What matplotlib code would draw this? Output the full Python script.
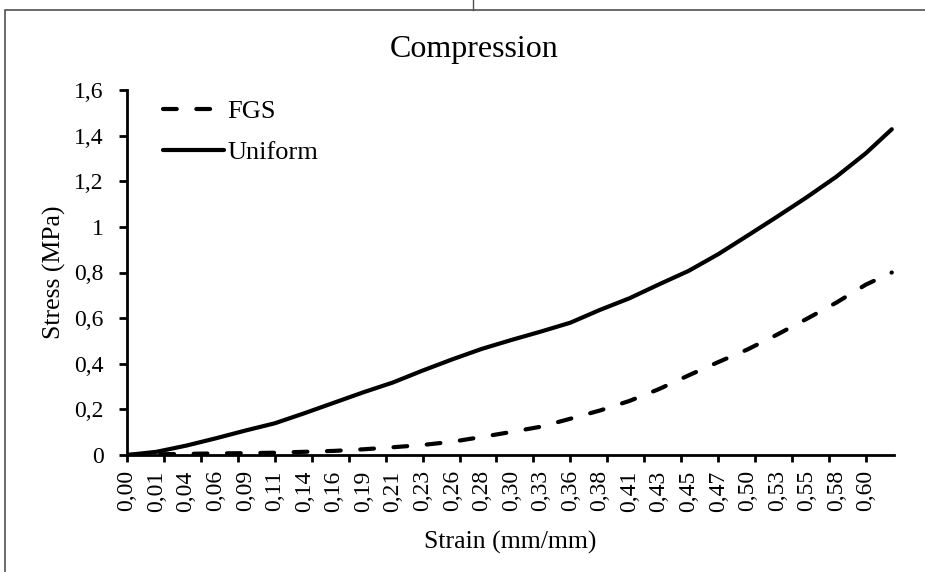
import matplotlib
matplotlib.use("Agg")
import matplotlib.pyplot as plt
from matplotlib.lines import Line2D
from matplotlib.patches import Rectangle
import numpy as np

# category axis (Excel style): labels every 4 categories, tick marks every 5
strain_labels = ["0,00", "0,01", "0,04", "0,06", "0,09", "0,11", "0,14", "0,16",
                 "0,19", "0,21", "0,23", "0,26", "0,28", "0,30", "0,33", "0,36",
                 "0,38", "0,41", "0,43", "0,45", "0,47", "0,50", "0,53", "0,55",
                 "0,58", "0,60"]
category = [4 * i for i in range(len(strain_labels))] + [103.5]

fgs = [0, 0.003, 0.005, 0.007, 0.008, 0.010, 0.014, 0.018, 0.025, 0.034,
       0.044, 0.058, 0.079, 0.101, 0.124, 0.159, 0.195, 0.237, 0.289, 0.349,
       0.407, 0.463, 0.528, 0.597, 0.668, 0.747, 0.800]
uniform = [0, 0.014, 0.041, 0.073, 0.107, 0.139, 0.183, 0.229, 0.275, 0.318,
           0.370, 0.419, 0.465, 0.504, 0.541, 0.580, 0.636, 0.687, 0.748, 0.807,
           0.880, 0.962, 1.045, 1.130, 1.220, 1.323, 1.428]

y_ticks = [0, 0.2, 0.4, 0.6, 0.8, 1.0, 1.2, 1.4, 1.6]
y_labels = ["0", "0,2", "0,4", "0,6", "0,8", "1", "1,2", "1,4", "1,6"]

plt.rcParams["font.family"] = ["Liberation Serif", "DejaVu Serif"]

W, H = 925, 572
fig = plt.figure(figsize=(W / 100, H / 100), dpi=100)
ax = fig.add_axes([127 / W, 1 - 455 / H, (894 - 127) / W, (455 - 90) / H])

# outer chart-area border
fig.patches.append(Rectangle((5 / W, -0.05), 1.1, 1 - 10 / H + 0.05,
                             transform=fig.transFigure, fill=False,
                             edgecolor="#505050", lw=1.2))
fig.lines.append(Line2D([473 / W, 473 / W], [1 - 10 / H, 1], transform=fig.transFigure,
                        color="#505050", lw=1))

ax.plot(category, fgs, color="black", lw=3, dashes=(3.3, 4.7),
        dash_capstyle="round", solid_capstyle="round", label="FGS")
ax.plot(category, uniform, color="black", lw=3, solid_capstyle="round",
        label="Uniform")

ax.set_xlim(0, 103.8)
ax.set_ylim(0, 1.6)
for s in ["top", "right"]:
    ax.spines[s].set_visible(False)
for s in ["left", "bottom"]:
    ax.spines[s].set_linewidth(2)

ax.set_yticks(y_ticks)
ax.set_yticklabels(y_labels, fontsize=17)
ax.tick_params(axis="y", length=6, width=2, pad=11)

ax.xaxis.remove_overlapping_locs = False
ax.set_xticks(np.arange(0, 101, 5))
ax.set_xticklabels([])
ax.tick_params(axis="x", which="major", length=5, width=2)
ax.set_xticks(category[:-1], minor=True)
ax.set_xticklabels(strain_labels, minor=True, rotation=90, fontsize=17)
ax.tick_params(axis="x", which="minor", length=0, pad=11)

ax.set_ylabel("Stress (MPa)", fontsize=18.5)
ax.yaxis.set_label_coords(-0.079, 0.5)
ax.set_xlabel("Strain (mm/mm)", fontsize=18.5, va="top")
ax.xaxis.set_label_coords(0.5, -0.209)
fig.text(474 / W, 1 - 57 / H, "Compression", fontsize=23, ha="center", va="baseline")

ax.legend(loc="upper left", bbox_to_anchor=(0.047, 0.974), frameon=False,
          fontsize=19, handlelength=2.3, handletextpad=0.15, labelspacing=0.67,
          borderaxespad=0, borderpad=0)

fig.savefig("out.png", dpi=100)
